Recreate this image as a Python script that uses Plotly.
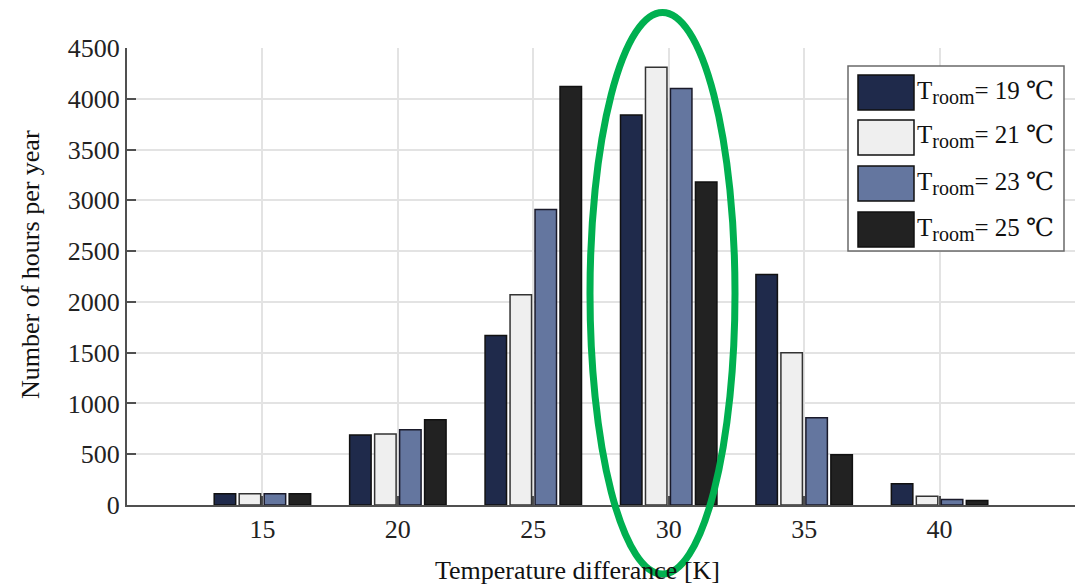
import plotly.graph_objects as go

# ---------------- data ----------------
categories = [15, 20, 25, 30, 35, 40]
t19 = [110, 690, 1670, 3840, 2270, 210]
t21 = [110, 700, 2070, 4310, 1500, 85]
t23 = [110, 740, 2910, 4100, 860, 55]
t25 = [110, 840, 4120, 3180, 495, 45]
series_values = [t19, t21, t23, t25]
room_temps = ["19", "21", "23", "25"]
y_ticks = [0, 500, 1000, 1500, 2000, 2500, 3000, 3500, 4000, 4500]
x_title = "Temperature differance [K]"
y_title = "Number of hours per year"

# ---------------- style ----------------
colors = ["#1f2a4b", "#efefef", "#64769f", "#222222"]
edge = ["#111111", "#333333", "#1a1a2a", "#111111"]
FONT = "Liberation Serif, Times New Roman, DejaVu Serif, serif"
W, H = 1075, 584
PL, PR, PT, PB = 127, 1075, 48, 505


def px_x(p):
    return (p - PL) / (PR - PL)


def px_y(p):
    return (PB - p) / (PB - PT)


series_names = ["T<sub><span style='font-size:20px'>room</span></sub>= %s ℃" % t
                for t in room_temps]

fig = go.Figure()
for vals, name, c, e in zip(series_values, series_names, colors, edge):
    fig.add_trace(go.Bar(x=categories, y=vals, name=name, marker_color=c,
                         marker_line_color=e, marker_line_width=1.5,
                         showlegend=False))

shapes = []
annotations = []

# custom legend (large swatches)
shapes.append(dict(type="rect", xref="paper", yref="paper",
                   x0=px_x(848), x1=px_x(1064), y0=px_y(251), y1=px_y(66),
                   fillcolor="white", line=dict(color="#6a6a6a", width=1.5),
                   layer="above"))
sw_tops = [75, 120, 166, 212]
for i, (name, c, e) in enumerate(zip(series_names, colors, edge)):
    top = sw_tops[i]
    shapes.append(dict(type="rect", xref="paper", yref="paper",
                       x0=px_x(858), x1=px_x(914), y0=px_y(top + 35), y1=px_y(top),
                       fillcolor=c, line=dict(color="#111111", width=1.5),
                       layer="above"))
    annotations.append(dict(xref="paper", yref="paper", x=px_x(915),
                            y=px_y(top + 17), xanchor="left", yanchor="middle",
                            text=name, showarrow=False,
                            font=dict(family=FONT, size=25, color="#111111")))

# green highlight ellipse
shapes.append(dict(type="circle", xref="paper", yref="paper",
                   x0=px_x(590), x1=px_x(735), y0=px_y(574), y1=px_y(12.5),
                   line=dict(color="#00b050", width=7), layer="above"))

# axis titles
annotations.append(dict(xref="paper", yref="paper", x=px_x(577), y=px_y(570),
                        xanchor="center", yanchor="middle", text=x_title,
                        showarrow=False,
                        font=dict(family=FONT, size=26, color="#111111")))
annotations.append(dict(xref="paper", yref="paper", x=px_x(30), y=px_y(265),
                        xanchor="center", yanchor="middle", text=y_title,
                        textangle=-90, showarrow=False,
                        font=dict(family=FONT, size=26, color="#111111")))

fig.update_layout(
    width=W, height=H,
    margin=dict(l=PL, r=W - PR, t=PT, b=H - PB, pad=0),
    paper_bgcolor="white", plot_bgcolor="white",
    barmode="group", bargap=0.262, bargroupgap=0.14,
    font=dict(family=FONT, size=26, color="#111111"),
    shapes=shapes, annotations=annotations,
    xaxis=dict(range=[10, 45], tickvals=categories, showgrid=True,
               gridcolor="#e3e3e3", gridwidth=2, showline=True,
               linecolor="#505050", linewidth=2, ticks="inside", ticklen=9,
               tickwidth=2, tickcolor="#505050", layer="below traces",
               zeroline=False, tickfont=dict(family=FONT, size=26, color="#222")),
    yaxis=dict(range=[0, 4500], tickvals=y_ticks, showgrid=True,
               gridcolor="#e3e3e3", gridwidth=2, showline=True,
               linecolor="#505050", linewidth=2, ticks="inside", ticklen=9,
               tickwidth=2, tickcolor="#505050", layer="below traces",
               zeroline=False, tickfont=dict(family=FONT, size=26, color="#222")),
)

fig.write_html("out.html")
